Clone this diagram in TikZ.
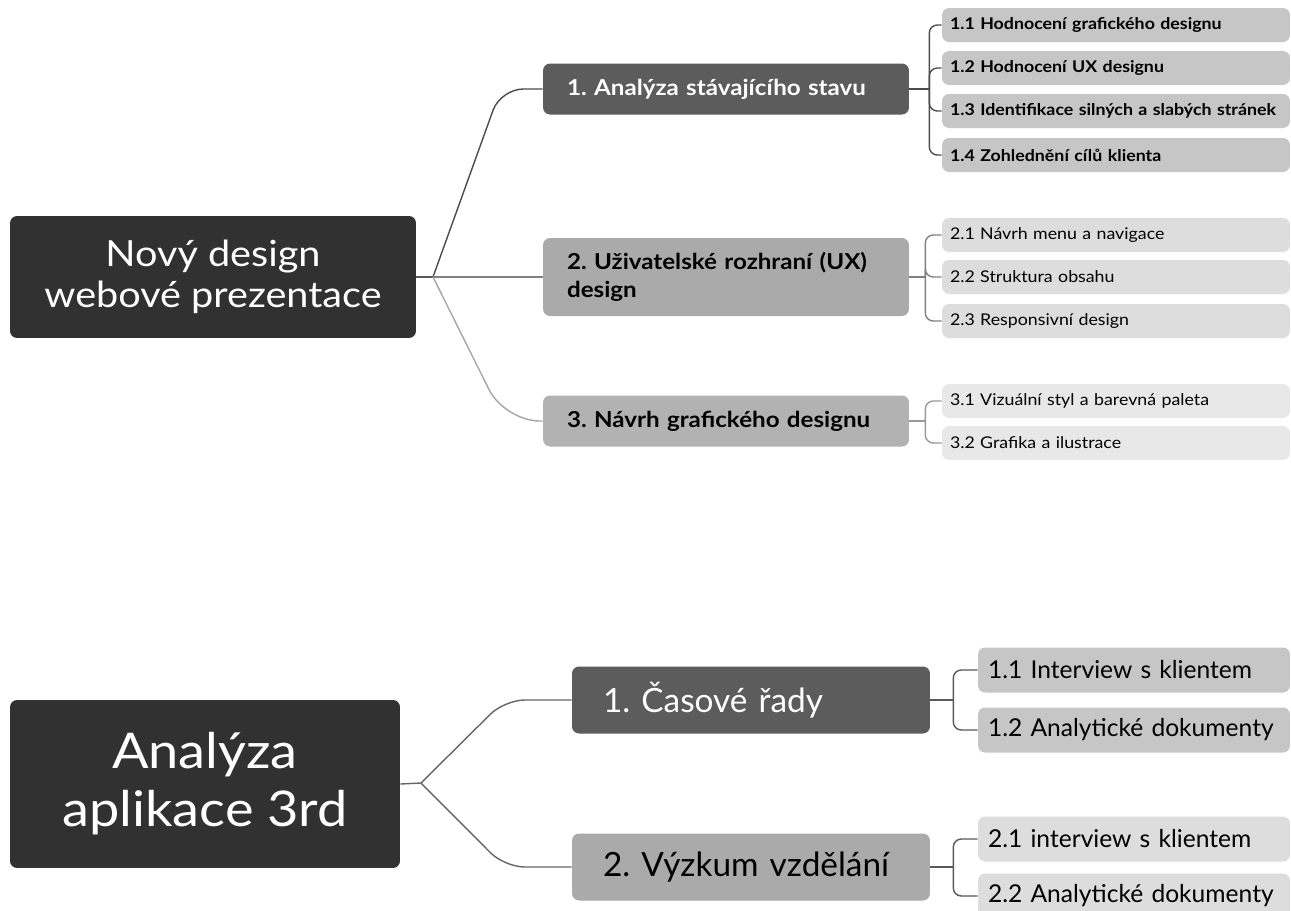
\documentclass[tikz,border=0pt]{standalone}
\usepackage{fontspec}
\setmainfont{Lato}
\newfontfamily\widefont{Lato}[FakeStretch=1.1]
\usetikzlibrary{positioning,calc}
\definecolor{rootgray}{HTML}{313131}
\definecolor{darkbox}{HTML}{5C5C5C}
\definecolor{midbox}{HTML}{AAAAAA}
\definecolor{lightbox}{HTML}{B2B2B2}
\definecolor{leafa}{HTML}{C6C6C6}
\definecolor{leafb}{HTML}{DDDDDD}
\definecolor{leafc}{HTML}{E8E8E8}
\tikzset{
	box/.style={rounded corners=4pt,inner ysep=0pt,align=left},
	rootbox/.style={box,fill=rootgray,text=white,align=center},
	topic/.style={box,minimum height=1.02cm,text width=6.36cm,inner xsep=0.48cm,
		font=\widefont\bfseries\fontsize{12.5}{16}\selectfont},
	leaf/.style={box,minimum height=0.68cm,text width=6.64cm,inner xsep=0.16cm,
		font=\widefont\fontsize{9.2}{10}\selectfont},
	boldleaf/.style={leaf,font=\widefont\bfseries\fontsize{9.2}{10}\selectfont},
	bigtopic/.style={box,minimum height=1.34cm,text width=5.92cm,inner xsep=0.62cm,
		font=\fontsize{19}{21}\selectfont},
	bigleaf/.style={box,minimum height=0.9cm,text width=5.84cm,inner xsep=0.2cm,
		font=\fontsize{14}{16}\selectfont},
	link/.style={line width=0.8pt,rounded corners=0.45cm},
	twig/.style={line width=0.8pt,rounded corners=0.16cm},
}

\begin{document}
\frenchspacing
\begin{tikzpicture}[x=0.02cm,y=-0.02cm]
	\useasboundingbox[fill=white] (0,0) rectangle (1291,910);

	% prvni mapa
	\node[rootbox,minimum width=8.12cm,minimum height=2.44cm,
		font=\widefont\fontsize{20.5}{23}\selectfont] (web) at (213,277) {Nový design\\webové prezentace};
	\begin{scope}[every node/.style={topic}]
		\node[fill=darkbox,text=white] (ana) at (726,89) {1. Analýza stávajícího stavu};
		\node[fill=midbox,minimum height=1.56cm] (ux) at (726,277) {2. Uživatelské rozhraní (UX)\\design};
		\node[fill=lightbox] (gra) at (726,421) {3. Návrh grafického designu};
	\end{scope}
	\begin{scope}[every node/.style={leaf}]
		\node[boldleaf,fill=leafa] (ana1) at (1116,25) {1.1 Hodnocení grafického designu};
		\node[boldleaf,fill=leafa] (ana2) at (1116,68) {1.2 Hodnocení UX designu};
		\node[boldleaf,fill=leafa] (ana3) at (1116,111) {1.3 Identifikace silných a slabých stránek};
		\node[boldleaf,fill=leafa] (ana4) at (1116,155) {1.4 Zohlednění cílů klienta};
		\node[fill=leafb] (ux1) at (1116,235) {2.1 Návrh menu a navigace};
		\node[fill=leafb] (ux2) at (1116,277) {2.2 Struktura obsahu};
		\node[fill=leafb] (ux3) at (1116,321) {2.3 Responsivní design};
		\node[fill=leafc] (gra1) at (1116,401) {3.1 Vizuální styl a barevná paleta};
		\node[fill=leafc] (gra2) at (1116,443) {3.2 Grafika a ilustrace};
	\end{scope}

	\coordinate (j1) at (433,277);
	\coordinate (k1) at ([xshift=0.4cm]ana.east);
	\coordinate (k2) at ([xshift=0.32cm]ux.east);
	\coordinate (k3) at ([xshift=0.32cm]gra.east);
	\draw[link,black!65] (web.east) -- (j1);
	\draw[link,black!70] (j1) -- ([xshift=-0.84cm]ana.west) -- (ana.west);
	\draw[link,black!50] (j1) -- (ux.west);
	\draw[link,black!35,rounded corners=0.7cm] (j1) -- ([xshift=-0.76cm]gra.west) -- (gra.west);
	\begin{scope}[twig,black!70]
		\draw (ana.east) -- (k1);
		\foreach \n in {ana1,ana2,ana3,ana4}
			\draw (k1) |- (\n.west);
	\end{scope}
	\begin{scope}[twig,black!50]
		\draw (ux.east) -- (k2);
		\foreach \n in {ux1,ux2,ux3}
			\draw (k2) |- (\n.west);
	\end{scope}
	\begin{scope}[twig,black!40]
		\draw (gra.east) -- (k3);
		\foreach \n in {gra1,gra2}
			\draw (k3) |- (\n.west);
	\end{scope}

	% druha mapa
	\node[rootbox,minimum width=7.8cm,minimum height=3.36cm,
		font=\widefont\fontsize{28}{33}\selectfont] (app) at (205,784) {Analýza\\aplikace 3rd};
	\begin{scope}[every node/.style={bigtopic}]
		\node[fill=darkbox,text=white] (cas) at (751,700) {1. Časové řady};
		\node[fill=midbox] (vyz) at (751,867) {2. Výzkum vzdělání};
	\end{scope}
	\begin{scope}[every node/.style={bigleaf}]
		\node[fill=leafa] (cas1) at (1134,670) {1.1 Interview s klientem};
		\node[fill=leafa] (cas2) at (1134,730) {1.2 Analytické dokumenty};
		\node[fill=leafb] (vyz1) at (1134,839) {2.1 interview s klientem};
		\node[fill=leafb] (vyz2) at (1134,896) {2.2 Analytické dokumenty};
	\end{scope}

	\coordinate (j2) at (421,783);
	\coordinate (k4) at ([xshift=0.46cm]cas.east);
	\coordinate (k5) at ([xshift=0.46cm]vyz.east);
	\begin{scope}[link,black!60]
		\draw (app.east) -- (j2);
		\draw[rounded corners=0.4cm] (j2) -- ([xshift=-1.34cm]cas.west) -- (cas.west);
		\draw[rounded corners=0.4cm] (j2) -- ([xshift=-1.34cm]vyz.west) -- (vyz.west);
	\end{scope}
	\begin{scope}[twig,black!65]
		\draw (cas.east) -- (k4);
		\foreach \n in {cas1,cas2}
			\draw (k4) |- (\n.west);
		\draw (vyz.east) -- (k5);
		\foreach \n in {vyz1,vyz2}
			\draw (k5) |- (\n.west);
	\end{scope}
\end{tikzpicture}
\end{document}
